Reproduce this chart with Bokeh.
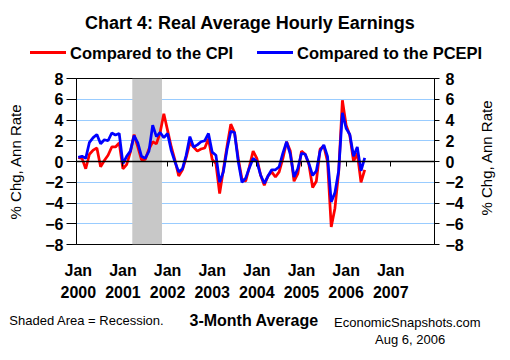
import pandas as pd
from bokeh.plotting import figure
from bokeh.layouts import column, row
from bokeh.models import (Range1d, LinearAxis, FixedTicker, BoxAnnotation, Div,
                          CustomLabelingPolicy)
from bokeh.embed import file_html
from bokeh.resources import INLINE

# ---- data (3-month average, % change at annual rate), Jan 2000 .. Jun 2006 ----
cpi_based = [
    0.4, 0.3, -0.7, 0.7, 1.1, 1.3, -0.5, 0.1, 0.6, 1.4, 1.4, 1.8,      # 2000
    -0.7, -0.3, 0.9, 2.6, 1.4, 0.15, 0.2, 1.2, 1.9, 1.7, 2.8, 4.6,     # 2001
    3.0, 1.4, 0.1, -1.4, -0.8, 0.4, 1.8, 1.4, 1.0, 1.2, 1.3, 2.2,      # 2002
    0.2, -0.2, -3.1, -0.8, 1.5, 3.6, 2.8, 0.3, -1.7, -1.9, -0.5, 1.0,  # 2003
    0.3, -1.3, -2.3, -1.4, -1.0, -1.5, -1.0, 0.3, 1.9, 1.0, -1.9, -1.2,  # 2004
    1.0, 0.7, -0.3, -2.5, -1.9, 1.2, 1.5, 0.0, -6.3, -4.5, -1.0, 5.9,  # 2005
    3.5, 2.5, 0.0, 0.8, -2.0, -0.8,                                    # 2006
]
pcepi_based = [
    0.4, 0.5, 0.3, 1.85, 2.3, 2.6, 1.7, 2.1, 2.0, 2.75, 2.55, 2.7,     # 2000
    -0.2, 0.5, 1.0, 2.5, 1.8, 0.5, 0.3, 1.0, 3.5, 2.4, 2.8, 2.3,       # 2001
    2.7, 1.05, -0.05, -1.0, -0.7, 0.6, 2.4, 1.4, 1.6, 1.9, 2.0, 2.7,   # 2002
    0.9, 0.6, -2.0, -1.0, 1.2, 2.9, 2.8, 0.0, -2.0, -1.6, -0.6, 0.3,   # 2003
    0.0, -1.3, -2.1, -1.4, -0.8, -0.8, -0.5, 0.8, 1.9, 0.7, -1.5, -0.7,  # 2004
    0.8, 0.7, -0.2, -1.35, -0.9, 1.0, 1.6, 0.5, -3.9, -3.0, -0.9, 4.7,  # 2005
    3.2, 2.6, 0.5, 1.4, -0.9, 0.35,                                    # 2006
]
tick_years = [2000, 2001, 2002, 2003, 2004, 2005, 2006, 2007]
tick_labels = ["Jan\n2000", "Jan\n2001", "Jan\n2002", "Jan\n2003",
               "Jan\n2004", "Jan\n2005", "Jan\n2006", "Jan\n2007"]
y_ticks = [-8, -6, -4, -2, 0, 2, 4, 6, 8]
grid_ticks = [-6, -4, -2, 2, 4, 6]
recession = [2001.21, 2001.875]   # Mar 2001 - Nov 2001

title_text = "Chart 4: Real Average Hourly Earnings"
series_names = ["Compared to the CPI", "Compared to the PCEPI"]
series_colors = ["#FF0000", "#0000FF"]
y_title = "% Chg, Ann Rate"
note_text = "Shaded Area = Recession."
avg_text = "3-Month Average"
source_text = "EconomicSnapshots.com"
date_text = "Aug 6, 2006"

months = pd.date_range("2000-01-01", periods=len(cpi_based), freq="MS")
xdec = list(months.year + (months.month - 1) / 12.0)

FONT = "Liberation Sans"
W = 510
FIG_W = 478


def span(txt, left, top, size, bold=False, extra=""):
    w = "bold" if bold else "normal"
    return (f'<span style="position:absolute;left:{left}px;top:{top}px;'
            f'white-space:nowrap;font-family:\'{FONT}\';font-size:{size}px;'
            f'line-height:{size}px;font-weight:{w};color:#000;{extra}">{txt}</span>')


def swatch(left, top, width, color):
    return (f'<span style="position:absolute;left:{left}px;top:{top}px;'
            f'width:{width}px;height:3px;background:{color};"></span>')


# ---------------- header: title + legend ----------------
header_html = ('<div style="position:relative;width:510px;height:70px;overflow:hidden;">'
               + span(title_text, 85, 14.2, 18, True)
               + swatch(30, 51.2, 36, series_colors[0])
               + span(series_names[0], 70, 44.7, 16.5, True)
               + swatch(257, 51.2, 36, series_colors[1])
               + span(series_names[1], 297, 44.7, 16.5, True)
               + '</div>')
header = Div(text=header_html, width=W, height=70, margin=0)

# ---------------- main chart ----------------
p = figure(width=FIG_W, height=238,
           x_range=Range1d(1999.96, 2007.98), y_range=Range1d(-8, 8),
           output_backend="svg", toolbar_location=None,
           min_border_left=76, min_border_right=FIG_W - 434,
           min_border_top=8, min_border_bottom=64)
p.outline_line_color = "black"
p.outline_line_width = 1
p.background_fill_color = "white"
p.border_fill_color = "white"

p.xgrid.visible = False
p.ygrid.ticker = FixedTicker(ticks=grid_ticks)
p.ygrid.grid_line_color = "#99CCFF"
p.ygrid.grid_line_width = 1

p.add_layout(BoxAnnotation(left=recession[0], right=recession[1],
                           fill_color="#C8C8C8", fill_alpha=1.0,
                           line_color=None, level="underlay"))

xa = p.xaxis[0]
xa.ticker = FixedTicker(ticks=tick_years)
xa.major_label_overrides = {y: lab for y, lab in zip(tick_years, tick_labels)}
xa.major_tick_out = 0
xa.major_tick_in = 0
xa.minor_tick_out = 0
xa.minor_tick_in = 0
xa.axis_line_color = None
xa.major_label_text_font = FONT
xa.major_label_text_font_style = "bold"
xa.major_label_text_font_size = "16px"
xa.major_label_text_color = "black"
xa.major_label_text_line_height = 1.34
xa.major_label_standoff = 17

# zero line with small downward year ticks (no labels of its own)
no_labels = CustomLabelingPolicy(code="""
try { for (const i of Array.from(indices)) indices.unset(i) } catch (e) {}
return indices
""")
zero_axis = LinearAxis(fixed_location=0, ticker=FixedTicker(ticks=tick_years[1:]),
                       major_tick_out=5, major_tick_in=0,
                       minor_tick_out=0, minor_tick_in=0,
                       major_label_text_font_size="0px",
                       major_label_policy=no_labels,
                       axis_line_color="black", axis_line_width=1.5,
                       major_tick_line_color="black", major_tick_line_width=1)
p.add_layout(zero_axis, "below")

ra = LinearAxis()
p.add_layout(ra, "right")
for ax, tout, stand in ((p.yaxis[0], 10, 3), (ra, 5, 6)):
    ax.ticker = FixedTicker(ticks=y_ticks)
    ax.major_tick_out = tout
    ax.major_tick_in = 0
    ax.minor_tick_out = 0
    ax.minor_tick_in = 0
    ax.axis_line_color = "black"
    ax.major_tick_line_color = "black"
    ax.major_label_standoff = stand
    ax.major_label_text_font = FONT
    ax.major_label_text_font_style = "bold"
    ax.major_label_text_font_size = "16px"
    ax.major_label_text_color = "black"
la = p.yaxis[0]
la.axis_label = y_title
la.axis_label_text_font = FONT
la.axis_label_text_font_style = "normal"
la.axis_label_text_font_size = "15px"
la.axis_label_text_color = "black"
la.axis_label_standoff = 18

p.line(xdec, cpi_based, line_color=series_colors[0], line_width=2.75)
p.line(xdec, pcepi_based, line_color=series_colors[1], line_width=2.75)

# right-hand axis title (reads bottom-to-top like the left one)
right_html = ('<div style="position:relative;width:32px;height:238px;overflow:hidden;">'
              + span(y_title, 7.5, 88.3, 15, False,
                     "transform:translate(-50%,-50%) rotate(-90deg);")
              + '</div>')
right_title = Div(text=right_html, width=W - FIG_W, height=238, margin=0)

# ---------------- footer ----------------
footer_html = ('<div style="position:relative;width:510px;height:52px;overflow:hidden;">'
               + span(note_text, 9.3, 6.2, 13)
               + span(avg_text, 189.5, 5.2, 16, True)
               + span(source_text, 334, 8.0, 13)
               + span(date_text, 375, 24.7, 13)
               + '</div>')
footer = Div(text=footer_html, width=W, height=52, margin=0)

layout = column(header, row(p, right_title, spacing=0), footer, spacing=0)
open("out.html", "w").write(file_html(layout, INLINE))
